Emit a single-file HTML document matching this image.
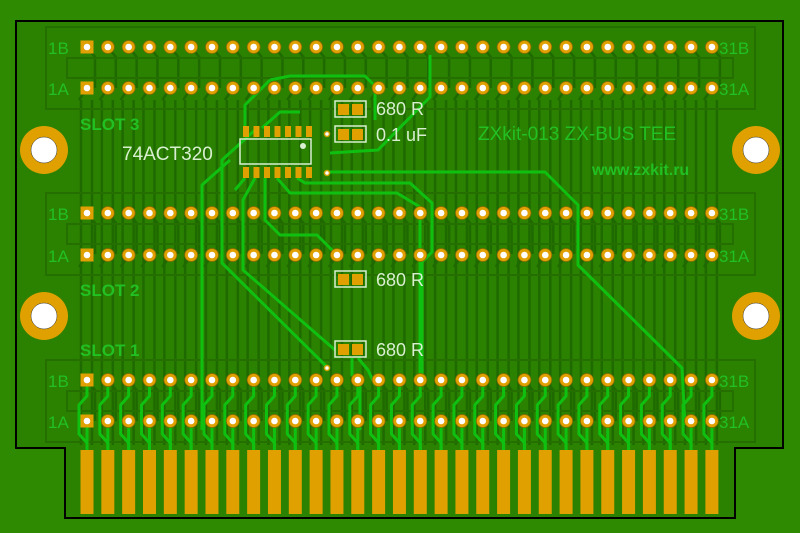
<!DOCTYPE html>
<html><head><meta charset="utf-8"><style>
html,body{margin:0;padding:0;background:#2e8a00;width:800px;height:533px;overflow:hidden}
svg{display:block}
text{font-family:"Liberation Sans",sans-serif}
</style></head><body>
<svg id="s" width="800" height="533" viewBox="0 0 800 533" xmlns="http://www.w3.org/2000/svg">
<rect width="800" height="533" fill="#2e8a00"/>
<path d="M16,21 H783 V448 H735 V518 H65 V448 H16 Z" fill="#2b8100" stroke="#000" stroke-width="2"/>
<g id="dark" stroke="#1f6a00" fill="none"></g>
<g id="conn" fill="none" stroke="#246f00" stroke-width="2">
<rect x="46" y="27" width="709" height="82"/><rect x="67" y="58" width="666" height="20"/>
<rect x="46" y="193" width="709" height="82"/><rect x="67" y="224" width="666" height="20"/>
<rect x="46" y="360" width="709" height="82"/><rect x="67" y="391" width="666" height="20"/>
</g>
<g id="bright" stroke="#10c010" stroke-width="3" fill="none" stroke-linejoin="round">
<path d="M270,80 L245,105 L245,128"/>
<path d="M270,80 L290,76 L365,76 L375,86 L375,120"/>
<path d="M430,55 L430,97 L378,150 L330,153"/>
<path d="M300,112 L280,112 L262,128"/>
<path d="M327,172 L545,172 L578,205 L578,265 L682,368 L685,425"/>
<path d="M277,178 L290,193 L397,193 L420,207 L420,380"/>
<path d="M297,178 L305,183 L410,183 L432,203 L432,252 L422,262 L422,380"/>
<path d="M230,160 L202,185 L202,430"/>
<path d="M255,130 L222,160 L222,263 L327,367"/>
<path d="M255,178 L243,200 L243,270 L335,350"/>
<path d="M265,178 L265,220 L280,235 L317,235 L337,255"/>
<path d="M245,178 L235,190"/>
<path d="M352,358 L352,375 L360,385 L360,430"/>
<path d="M358,358 L368,370 L375,385"/>
</g>
<g id="pins"></g>
<g id="fing" fill="#e0a000"></g>
<g fill="#e0a000">
<circle cx="44" cy="150" r="24"/><circle cx="756" cy="150" r="24"/>
<circle cx="44" cy="316" r="24"/><circle cx="756" cy="316" r="24"/>
</g>
<g fill="#fff" stroke="#333" stroke-width="0.5">
<circle cx="44" cy="150" r="13"/><circle cx="756" cy="150" r="13"/>
<circle cx="44" cy="316" r="13"/><circle cx="756" cy="316" r="13"/>
</g>
<g id="chip"></g>
<g fill="none" stroke="#d8f0d0" stroke-width="1.5">
<rect x="240" y="139" width="71" height="25"/>
<rect x="335" y="101" width="31" height="16"/><rect x="335" y="126" width="31" height="16"/>
<rect x="335" y="271" width="31" height="16"/><rect x="335" y="341" width="31" height="16"/>
</g>
<circle cx="303" cy="146" r="3" fill="#d8f0d0"/>
<g fill="#e0a000">
<rect x="338" y="104" width="11" height="11"/><rect x="352" y="104" width="11" height="11"/>
<rect x="338" y="129" width="11" height="11"/><rect x="352" y="129" width="11" height="11"/>
<rect x="338" y="274" width="11" height="11"/><rect x="352" y="274" width="11" height="11"/>
<rect x="338" y="344" width="11" height="11"/><rect x="352" y="344" width="11" height="11"/>
</g>
<g fill="#fff" stroke="#d0a000" stroke-width="1.5">
<circle cx="327" cy="134" r="2.5"/><circle cx="327" cy="173" r="2.5"/><circle cx="327" cy="368" r="2.5"/>
</g>
<g fill="#d8f0d0" font-size="18">
<text x="376" y="115">680 R</text><text x="376" y="141">0.1 uF</text>
<text x="376" y="286">680 R</text><text x="376" y="356">680 R</text>
<text x="122" y="160" font-size="19">74ACT320</text>
</g>
<g fill="#22c022" font-size="17">
<text x="48" y="54">1B</text><text x="48" y="95">1A</text>
<text x="48" y="220">1B</text><text x="48" y="262">1A</text>
<text x="48" y="387">1B</text><text x="48" y="428">1A</text>
<text x="719" y="54">31B</text><text x="719" y="95">31A</text>
<text x="719" y="220">31B</text><text x="719" y="262">31A</text>
<text x="719" y="387">31B</text><text x="719" y="428">31A</text>
<text x="80" y="130" font-weight="bold">SLOT 3</text><text x="80" y="296" font-weight="bold">SLOT 2</text><text x="80" y="356" font-weight="bold">SLOT 1</text>
<text x="478" y="140" font-size="19">ZXkit-013 ZX-BUS TEE</text>
<text x="592" y="175" font-size="16" font-weight="bold">www.zxkit.ru</text>
</g>
</svg>
<script>
var NS="http://www.w3.org/2000/svg";
function el(p,t,a){var e=document.createElementNS(NS,t);for(var k in a)e.setAttribute(k,a[k]);document.getElementById(p).appendChild(e);return e;}
var P=[];for(var i=0;i<31;i++)P.push(87+i*20.83);
P.forEach(function(x){
 el("dark","line",{x1:x-6,y1:100,x2:x-6,y2:445,"stroke-width":2.5});
 el("dark","line",{x1:x+5,y1:100,x2:x+5,y2:445,"stroke-width":2.5});
 [47,213,380].forEach(function(y){el("dark","path",{d:"M"+x+","+y+" L"+(x+8)+","+(y+10)+" L"+(x+8)+","+(y+41),"stroke-width":2.5});});
 [88,255].forEach(function(y){el("dark","path",{d:"M"+x+","+y+" L"+(x-8)+","+(y+12),"stroke-width":2.5});});
});
P.forEach(function(x){
 el("bright","path",{d:"M"+x+",380 L"+x+",396 L"+(x-8)+",405 L"+(x-8)+",434 L"+x+",443 L"+x+",452"});
 el("bright","path",{d:"M"+x+",421 L"+x+",452"});
});
[47,88,213,255,380,421].forEach(function(y){
 P.forEach(function(x,i){
  if(i==0) el("pins","rect",{x:x-6.5,y:y-6.5,width:13,height:13,fill:"#e0a000"});
  else el("pins","circle",{cx:x,cy:y,r:6.5,fill:"#e0a000",stroke:"#8a6a00","stroke-width":0.8});
  el("pins","circle",{cx:x,cy:y,r:3.3,fill:"#fff"});
 });
});
P.forEach(function(x){el("fing","rect",{x:x-6.5,y:450,width:13,height:64});});
for(var j=0;j<7;j++){var x=243+j*10.5;
 el("chip","rect",{x:x,y:126,width:6,height:11,fill:"#e0a000"});
 el("chip","rect",{x:x,y:167,width:6,height:11,fill:"#e0a000"});}
</script>
</body></html>
